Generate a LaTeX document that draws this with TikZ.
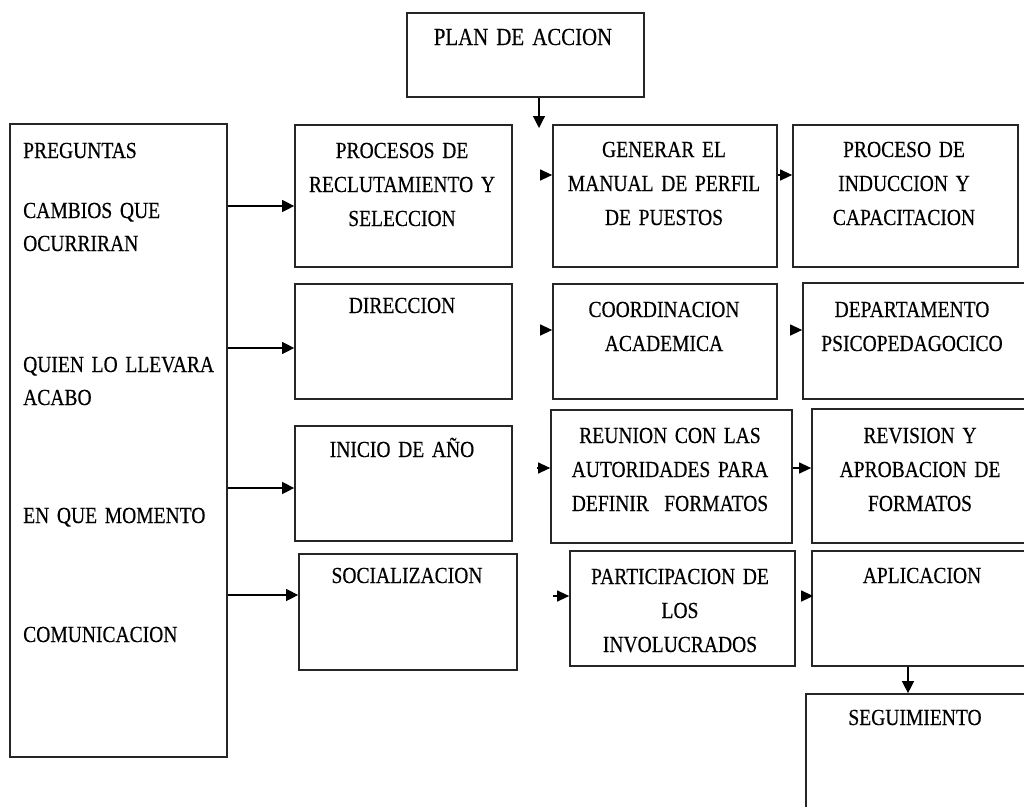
\documentclass[tikz,border=0pt]{standalone}
\usepackage{fontspec}
\setmainfont{Liberation Serif}[FakeStretch=0.85, WordSpace=0.65, FakeBold=0.3]
\usetikzlibrary{arrows.meta}
\begin{document}
\begin{tikzpicture}[x=1pt,y=-1pt,
  box/.style={draw=black!85, line width=1.7pt, inner sep=0pt, minimum width=#1},
  txt/.style={inner sep=0pt, font=\fontsize{23}{34}\selectfont, align=center, text width=250pt, anchor=base},
  ltxt/.style={inner sep=0pt, font=\fontsize{23}{33}\selectfont, align=left, text width=200pt, anchor=base west},
  arr/.style={draw=black, line width=1.2pt, -{Triangle[length=12pt,width=12pt]}},
  sarr/.style={draw=black, line width=1.2pt, -{Triangle[length=12pt,width=11pt]}}
]
\clip (0,0) rectangle (1024,806);
\fill[white] (0,0) rectangle (1024,806);

% boxes
\node[box=237pt, minimum height=84pt]  (plan) at (525.5,55) {};
\node[box=217pt, minimum height=633pt] (left) at (118.5,440.5) {};
\node[box=217pt, minimum height=142pt] (r1c1) at (403.5,196) {};
\node[box=224pt, minimum height=142pt] (r1c2) at (665,196) {};
\node[box=225pt, minimum height=142pt] (r1c3) at (905.5,196) {};
\node[box=217pt, minimum height=115pt] (r2c1) at (403.5,341.5) {};
\node[box=224pt, minimum height=115pt] (r2c2) at (665,341.5) {};
\node[box=227pt, minimum height=116pt] (r2c3) at (916.5,341) {};
\node[box=217pt, minimum height=115pt] (r3c1) at (403.5,483.5) {};
\node[box=241pt, minimum height=133pt] (r3c2) at (671.5,476.5) {};
\node[box=218pt, minimum height=134pt] (r3c3) at (921,476) {};
\node[box=218pt, minimum height=116pt] (r4c1) at (408,612) {};
\node[box=225pt, minimum height=115pt] (r4c2) at (682.5,608.5) {};
\node[box=220pt, minimum height=115pt] (r4c3) at (922,608.5) {};
\node[box=220pt, minimum height=146pt] (seg)  at (916,767) {};

% texts
\node[txt, font=\fontsize{24.5}{34}\selectfont] (tplan) at (523,45) {PLAN DE ACCION};
\node[ltxt] (tl1) at (23,158) {PREGUNTAS};
\node[ltxt] (tl2) at (23,218) {CAMBIOS QUE\\OCURRIRAN};
\node[ltxt] (tl3) at (23,372) {QUIEN LO LLEVARA\\ACABO};
\node[ltxt] (tl4) at (23,523) {EN QUE MOMENTO};
\node[ltxt] (tl5) at (23,642) {COMUNICACION};

\node[txt] (t11) at (402,158) {PROCESOS DE\\RECLUTAMIENTO Y\\SELECCION};
\node[txt] (t12) at (664,157) {GENERAR EL\\MANUAL DE PERFIL\\DE PUESTOS};
\node[txt] (t13) at (904,157) {PROCESO DE\\INDUCCION Y\\CAPACITACION};
\node[txt] (t21) at (402,313) {DIRECCION};
\node[txt] (t22) at (664,317) {COORDINACION\\ACADEMICA};
\node[txt] (t23) at (912,317) {DEPARTAMENTO\\PSICOPEDAGOCICO};
\node[txt] (t31) at (402,457) {INICIO DE AÑO};
\node[txt] (t32) at (670,443) {REUNION CON LAS\\AUTORIDADES PARA\\DEFINIR\ \ FORMATOS};
\node[txt] (t33) at (920,443) {REVISION Y\\APROBACION DE\\FORMATOS};
\node[txt] (t41) at (407,583) {SOCIALIZACION};
\node[txt] (t42) at (680,584) {PARTICIPACION DE\\LOS\\INVOLUCRADOS};
\node[txt] (t43) at (922,583) {APLICACION};
\node[txt] (t5)  at (915,725) {SEGUIMIENTO};

% connectors
\coordinate (planend) at (539,128);
\draw[arr] (plan.south -| planend) -- (planend);

\draw[arr] (left.east |- 0,206) -- (r1c1.west |- 0,206);
\draw[arr] (left.east |- 0,348) -- (r2c1.west |- 0,348);
\draw[arr] (left.east |- 0,488) -- (r3c1.west |- 0,488);
\draw[arr] (left.east |- 0,595) -- (r4c1.west |- 0,595);

\draw[sarr, shorten <=29pt] (r1c1.east |- 0,175) -- (r1c2.west |- 0,175);
\draw[sarr] (r1c2.east |- 0,175) -- (r1c3.west |- 0,175);
\draw[sarr, shorten <=27pt] (r2c1.east |- 0,330) -- (r2c2.west |- 0,330);
\draw[sarr, shorten <=13pt] (r2c2.east |- 0,330) -- (r2c3.west |- 0,330);
\draw[sarr, shorten <=24pt] (r3c1.east |- 0,468) -- (r3c2.west |- 0,468);
\draw[sarr] (r3c2.east |- 0,468) -- (r3c3.west |- 0,468);
\draw[sarr, shorten <=35pt] (r4c1.east |- 0,596) -- (r4c2.west |- 0,596);
\draw[sarr, shorten <=8pt] (r4c2.east |- 0,596) -- ([xshift=2pt]r4c3.west |- 0,596);

\draw[arr] (r4c3.south -| 908,0) -- (seg.north -| 908,0);
\end{tikzpicture}
\end{document}
